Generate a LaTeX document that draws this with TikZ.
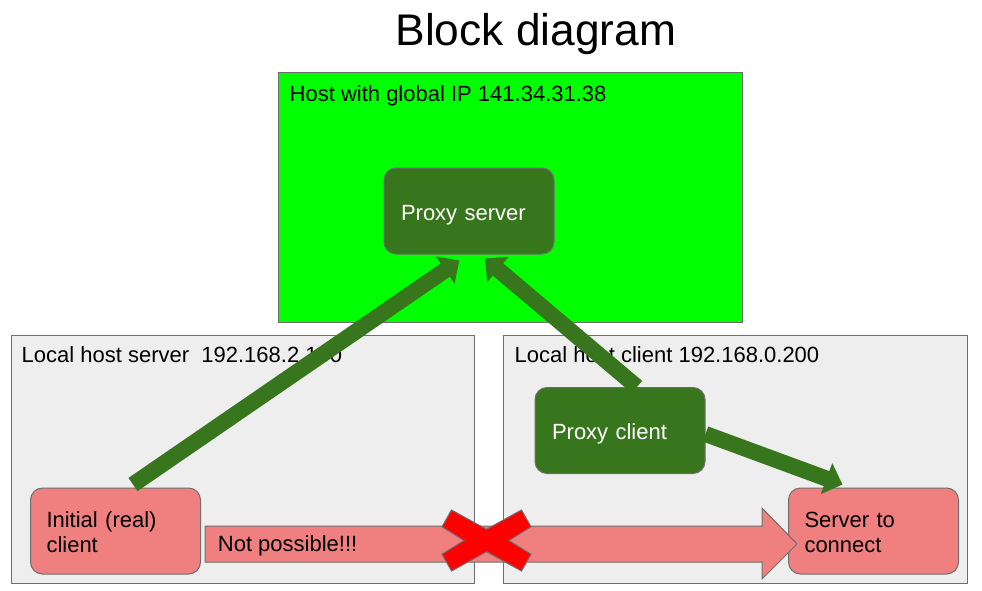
\documentclass[tikz,border=0pt]{standalone}
\usepackage{fontspec}
\setmainfont{Liberation Sans}
\usetikzlibrary{arrows.meta,calc,positioning}

\definecolor{hostgreen}{RGB}{0,255,0}
\definecolor{proxygreen}{RGB}{56,118,29}
\definecolor{localgray}{RGB}{238,238,238}
\definecolor{clientcoral}{RGB}{240,128,128}
\definecolor{edgegray}{RGB}{110,110,110}

\tikzset{
  hostbox/.style={draw=edgegray,line width=1pt,fill=#1,minimum width=464pt,minimum height=249pt,inner sep=0pt},
  hostlabel/.style={anchor=base west,inner sep=0pt,font=\fontsize{22}{25}\selectfont},
  proxybox/.style={draw=edgegray,line width=1pt,fill=proxygreen,rounded corners=12pt,text=white,
    minimum width=170pt,minimum height=86pt,text width=136pt,inner xsep=17pt,inner ysep=0pt,
    align=left,text height=18pt,text depth=0pt,font=\fontsize{22}{25}\selectfont},
  endbox/.style={draw=edgegray,line width=1pt,fill=clientcoral,rounded corners=12pt,
    minimum width=170pt,minimum height=86pt,text width=138pt,inner xsep=16pt,inner ysep=0pt,
    align=left,text height=17pt,text depth=25pt,font=\fontsize{22}{25}\selectfont},
  tunnel/.style={line width=16pt,draw=proxygreen,-{Triangle[width=32pt,length=17pt]}},
  blockarrow/.style={draw=edgegray,line width=1pt,fill=clientcoral},
  crossmark/.style={draw=edgegray,line width=1pt,fill=red}
}

\begin{document}
\begin{tikzpicture}[x=1pt,y=-1pt,line join=miter]
\useasboundingbox (0,0) rectangle (982,591);
\node[font=\fontsize{44.3}{50}\selectfont,anchor=base,inner sep=0pt] (title) at (535.8,45.5) {Block diagram};
\node[hostbox=hostgreen] (globalhost) at (510,197.5) {};
\node[hostbox=localgray,minimum width=463pt,minimum height=248pt] (serverhost) at (242.5,459) {};
\node[hostbox=localgray,minimum height=248pt] (clienthost) at (735,459) {};
\node[hostlabel] (globallabel) at ($(globalhost.north west)+(12,29)$) {Host with global IP 141.34.31.38};
\node[hostlabel] (serverlabel) at ($(serverhost.north west)+(11,28)$) {Local host server\ \ 192.168.2.100};
\node[hostlabel] (clientlabel) at ($(clienthost.north west)+(12,28)$) {Local host client 192.168.0.200};
\node[proxybox] (pserver) at (469,211) {Proxy server};
\node[proxybox] (pclient) at (620,430.5) {Proxy client};
\node[endbox] (client) at (115.5,531) {Initial (real)\\client};
\node[endbox] (target) at (873.5,531) {Server to\\connect};
\draw[tunnel] ($(client.north)+(17.5,-3)$) -- ($(pserver.south)+(-9.7,6)$);
\draw[tunnel] ($(pclient.north)+(17,0)$) -- ($(pserver.south)+(16,4)$);
\draw[tunnel] ($(pclient.east)+(0,3.5)$) -- ($(target.north)+(-31,-3)$);
\coordinate (np-start) at ($(client.east)+(4,13)$);
\coordinate (np-tip) at ($(target.west)+(9,13)$);
\draw[blockarrow] ($(np-start)+(0,-18)$) -- ($(np-tip)+(-35,-18)$) -- ($(np-tip)+(-35,-36)$) -- (np-tip)
  -- ($(np-tip)+(-35,35)$) -- ($(np-tip)+(-35,18)$) -- ($(np-start)+(0,18)$) -- cycle;
\node[hostlabel] (nplabel) at ($(np-start)+(12.7,7.7)$) {Not possible!!!};
\coordinate (cross) at (486.5,540.5);
\begin{scope}[shift={(cross)}]
\draw[crossmark] (-44.5,-13.7) -- (-35,-30.5) -- (0,-11.2) -- (35,-30.5) -- (44.5,-13.7) -- (22.5,0)
  -- (44.5,13.7) -- (35,30.5) -- (0,11.2) -- (-35,30.5) -- (-44.5,13.7) -- (-22.5,0) -- cycle;
\end{scope}
\end{tikzpicture}
\end{document}
